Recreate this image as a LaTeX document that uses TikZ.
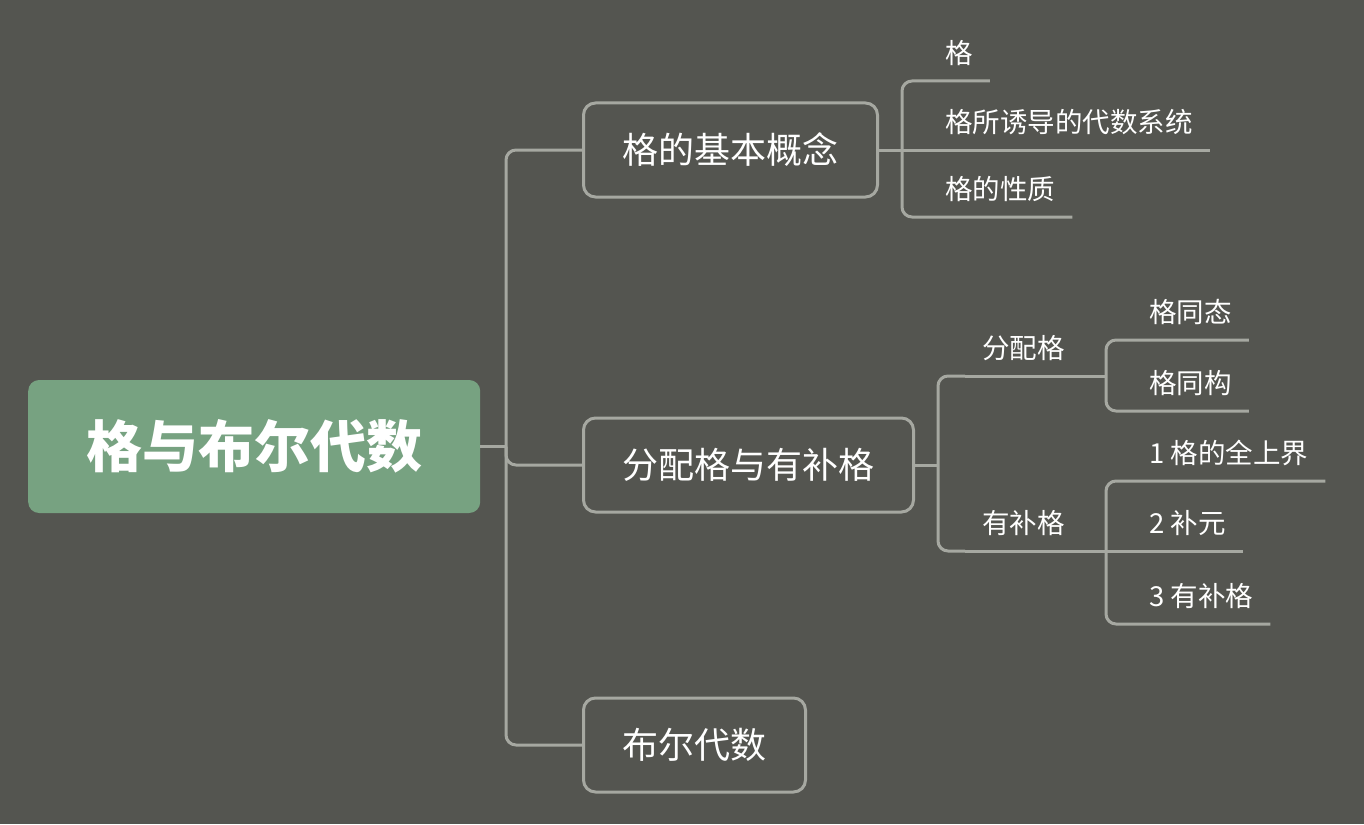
\documentclass[tikz,border=0pt]{standalone}
\usepackage{fontspec}
\setmainfont{Noto Sans CJK SC}
\definecolor{bgc}{HTML}{545550}
\definecolor{linec}{HTML}{A6A8A1}
\definecolor{rootc}{HTML}{77A281}
\begin{document}
\begin{tikzpicture}[x=1pt,y=-1pt,
  rootbox/.style={fill=rootc, rounded corners=11pt, minimum width=452pt, minimum height=133pt, anchor=west, text=white, font=\fontsize{56}{60}\selectfont\bfseries, inner sep=0pt},
  topic/.style={draw=linec, line width=3pt, fill=bgc, rounded corners=12pt, minimum height=94pt, anchor=west, text=white, font=\fontsize{36}{40}\selectfont, inner sep=0pt},
  leaf/.style={anchor=south west, text=white, font=\fontsize{27.5}{30}\selectfont, inner xsep=17pt, inner ysep=17pt, text depth=0pt},
  conn/.style={draw=linec, line width=3pt, rounded corners=10pt}
]
\fill[bgc] (0,0) rectangle (1364,824);
\useasboundingbox (0,0) rectangle (1364,824);

% root and topics
\node[rootbox] (root) at (28,446.5) {格与布尔代数};
\node[topic, minimum width=294pt] (t1) at (582,150) {格的基本概念};
\node[topic, minimum width=330pt] (t2) at (582,465) {分配格与有补格};
\node[topic, minimum width=222pt] (t3) at (582,745) {布尔代数};

\coordinate (v0) at (506,446.5);
\draw[conn] (root.east) -- (v0);
\draw[conn] (t1.west) -| (v0) |- (t3.west);
\draw[conn] (v0) |- (t2.west);

% group 1
\node[leaf] (a1) at (928,81) {格};
\node[leaf] (a2) at (928,150) {格所诱导的代数系统};
\node[leaf] (a3) at (928,217) {格的性质};
\coordinate (v1) at (902,150);
\draw[conn] (a1.south east) -| (v1) |- (a3.south east);
\draw[conn] (t1.east) -- (a2.south east);

% group 2
\node[leaf] (b1) at (965,376) {分配格};
\node[leaf] (b2) at (965,551) {有补格};
\coordinate (v2) at (938,465);
\draw[conn] (b1.south west) -| (v2) |- (b2.south west);
\draw[conn] (t2.east) -- (v2);

% sub of 分配格
\node[leaf] (c1) at (1132,340) {格同态};
\node[leaf] (c2) at (1132,411) {格同构};
\coordinate (v3) at (1106,376);
\draw[conn] (c1.south east) -| (v3) |- (c2.south east);
\draw[conn] (b1.south west) -- (v3);

% sub of 有补格
\node[leaf] (d1) at (1132,481) {1 格的全上界};
\node[leaf] (d2) at (1132,551) {2 补元};
\node[leaf] (d3) at (1132,624) {3 有补格};
\coordinate (v4) at (1106,551);
\draw[conn] (d1.south east) -| (v4) |- (d3.south east);
\draw[conn] (b2.south west) -- (d2.south east);
\end{tikzpicture}
\end{document}
